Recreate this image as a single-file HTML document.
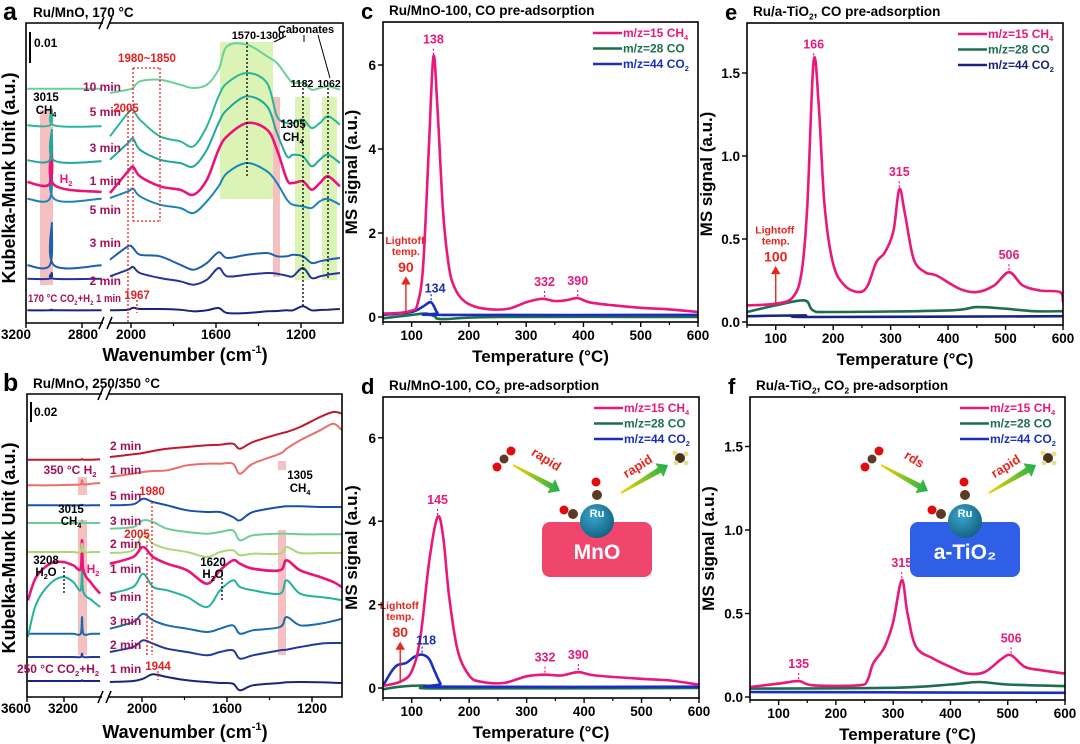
<!DOCTYPE html>
<html><head><meta charset="utf-8">
<style>
html,body{margin:0;padding:0;background:#fff;}
svg{display:block;font-family:"Liberation Sans",Arial,sans-serif;}
text{font-weight:bold;}
</style></head>
<body>
<svg id="fig" width="1080" height="744" viewBox="0 0 1080 744" xmlns="http://www.w3.org/2000/svg">
<defs>
<linearGradient id="arrowGrad" x1="0" y1="0" x2="1" y2="0">
<stop offset="0" stop-color="#f6d400"/><stop offset="1" stop-color="#19b04a"/>
</linearGradient>
<radialGradient id="ruGrad" cx="0.4" cy="0.35" r="0.7">
<stop offset="0" stop-color="#3aa6cf"/><stop offset="1" stop-color="#11607f"/>
</radialGradient>
</defs>
</svg>
<script>
// ---------- Panel a data (wavenumber grid, absorbance in arbitrary units) ----------
const aRightWaves = [2099,2014,1990,1958,1864,1769,1706,1643,1588,1548,1454,1360,1313,1266,1238,1191,1150,1111,1073,1017];
const aLeftWaves = [3190,3030,3015,3000,2660];
const aLabels = ["","2 min","3 min","5 min","1 min","3 min","5 min","10 min"];
const aRight1 = [38,40,46,42,42,40,35,38,45,30,30,35,36,38,38,50,38,39,40,42];
const aRight2 = [140,160,168,150,135,125,115,130,165,140,145,150,148,142,140,165,135,140,145,150];
const aRight3 = [190,230,225,205,200,175,160,180,212,195,205,210,200,200,205,200,180,185,190,195];
const aRight4 = [375,395,403,380,355,345,330,365,410,450,480,455,420,370,355,350,345,365,372,355];
const aRight5 = [390,455,468,440,410,400,385,430,520,560,600,580,520,430,420,425,400,420,440,410];
const aRight6 = [490,540,553,520,490,480,470,520,600,640,680,650,570,500,505,500,470,490,505,480];
const aRight7 = [560,630,638,610,560,545,530,590,680,720,750,720,620,600,600,610,585,600,620,595];
const aRight8 = [690,700,705,725,730,715,705,715,760,830,835,800,780,740,720,720,700,705,710,700];
const aLeft1 = [38,38,40,38,38];
const aLeft2 = [133,133,150,133,133];
const aLeft3 = [173,173,300,173,173];
const aLeft4 = [373,373,500,373,373];
const aLeft5 = [423,418,530,415,393];
const aLeft6 = [488,488,580,488,485];
const aLeft7 = [593,593,640,593,590];
const aLeft8 = [703,703,703,703,703];

// ---------- Panel b data ----------
const bRightWaves = [2151,2042,1995,1948,1882,1788,1694,1633,1572,1539,1478,1351,1320,1256,1162,1100,1059];
const bLeftWaves = [3590,3500,3350,3210,3100,3020,3005,2990,2900,2810];
const bLabels = ["1 min","2 min","3 min","5 min","1 min","2 min","3 min","5 min","1 min","2 min"];
const bRight1 = [45,48,55,68,60,50,45,42,40,20,35,42,44,45,44,43,42];
const bRight2 = [135,150,170,160,145,135,125,135,140,115,125,140,142,150,160,162,162];
const bRight3 = [205,225,250,230,215,205,195,205,215,190,200,210,240,215,220,228,235];
const bRight4 = [310,330,370,330,320,300,270,320,350,330,320,310,350,310,300,295,290];
const bRight5 = [400,420,450,420,400,380,340,380,410,400,385,380,410,380,360,345,330];
const bRight6 = [432,440,490,460,445,435,420,435,440,425,430,430,450,432,432,432,432];
const bRight7 = [505,510,530,525,505,495,490,495,500,470,485,490,490,488,488,488,488];
const bRight8 = [575,578,595,585,575,560,555,555,540,530,555,570,572,572,570,570,570];
const bRight9 = [660,670,675,678,680,695,700,700,700,670,700,730,745,770,800,820,800];
const bRight10 = [720,728,732,738,745,750,755,757,760,745,765,790,795,810,840,855,850];
const bLeft1 = [48,48,48,48,48,48,50,48,48,48];
const bLeft2 = [120,120,120,120,120,120,130,120,120,120];
const bLeft3 = [190,190,190,190,190,190,240,190,190,190];
const bLeft4 = [180,280,340,360,345,320,390,315,290,270];
const bLeft5 = [290,360,400,405,395,385,470,380,340,310];
const bLeft6 = [435,435,435,435,435,435,460,435,435,435];
const bLeft7 = [522,522,522,522,522,522,530,522,522,522];
const bLeft8 = [575,575,575,575,575,575,577,575,575,575];
const bLeft9 = [635,635,635,636,637,638,650,638,640,642];
const bLeft10 = [712,712,712,712,712,712,714,712,712,713];

// ---------- Panel c data (TPSR, MS signal) ----------
const cTempCH4 = [50,80,100,110,120,130,138,145,155,165,175,190,210,240,270,300,320,332,350,370,390,410,450,500,550,600];
const cValCH4 = [0.08,0.1,0.15,0.3,1.2,4.0,6.2,5.0,2.5,1.2,0.7,0.4,0.25,0.18,0.2,0.35,0.42,0.43,0.38,0.4,0.45,0.35,0.28,0.22,0.18,0.12];
const cTempCO = [50,100,125,140,155,250,600];
const cValCO = [-0.03,0.05,0.08,0.02,-0.05,0.0,0.0];
const cTempCO2 = [50,100,120,134,145,155,600];
const cValCO2 = [0.05,0.12,0.25,0.35,0.1,0.05,0.05];
const cPeaks = [138,332,390];
const cPeakVals = [6.2,0.43,0.45];
const cCO2Peak = [134];
const cCO2PeakVal = [0.35];
const cLightoff = [90];

// ---------- Panel d data ----------
const dTempCH4 = [50,80,100,115,130,145,155,165,180,200,220,260,300,332,360,390,420,500,550,600];
const dValCH4 = [0.05,0.15,0.4,1.2,3.0,4.1,3.6,2.2,0.9,0.3,0.15,0.12,0.28,0.32,0.3,0.38,0.3,0.22,0.18,0.08];
const dTempCO = [50,80,120,140,150,600];
const dValCO = [-0.03,0.03,0.06,0.03,-0.01,0.0];
const dTempCO2 = [50,65,75,90,105,118,130,140,150,155,600];
const dValCO2 = [0.05,0.4,0.55,0.6,0.75,0.8,0.7,0.4,0.1,0.03,0.03];
const dPeaks = [145,332,390];
const dPeakVals = [4.1,0.32,0.38];
const dCO2Peak = [118];
const dCO2PeakVal = [0.8];
const dLightoff = [80];

// ---------- Panel e data ----------
const eTempCH4 = [50,100,130,145,155,166,175,185,200,220,245,260,275,290,305,315,325,340,360,380,420,450,480,506,530,560,595,600];
const eValCH4 = [0.1,0.11,0.15,0.3,0.7,1.57,1.3,0.7,0.35,0.22,0.18,0.22,0.36,0.42,0.55,0.8,0.65,0.38,0.3,0.28,0.2,0.18,0.22,0.3,0.22,0.19,0.18,0.12];
const eTempCO = [50,100,150,165,200,400,450,500,550,600];
const eValCO = [0.06,0.1,0.13,0.07,0.06,0.07,0.09,0.08,0.065,0.065];
const eTempCO2 = [50,150,160,600];
const eValCO2 = [0.035,0.04,0.03,0.035];
const ePeaks = [166,315,506];
const ePeakVals = [1.57,0.8,0.3];
const eLightoff = [100];

// ---------- Panel f data ----------
const fTempCH4 = [50,100,135,160,240,255,265,285,300,315,325,340,370,400,430,460,490,506,530,560,600];
const fValCH4 = [0.06,0.08,0.095,0.07,0.07,0.1,0.2,0.3,0.45,0.7,0.5,0.3,0.23,0.18,0.14,0.15,0.23,0.25,0.18,0.16,0.14];
const fTempCO = [50,300,400,450,500,600];
const fValCO = [0.05,0.055,0.075,0.09,0.075,0.065];
const fTempCO2 = [50,600];
const fValCO2 = [0.03,0.025];
const fPeaks = [135,315,506];
const fPeakVals = [0.095,0.7,0.25];

const xTicksT = [100,200,300,400,500,600];
const xMinorT = [50,150,250,350,450,550];
const yTicksMnO = [0,2,4,6];
const yTicksTi = [0.0,0.5,1.0,1.5];

// ---------- helpers ----------
const NS='http://www.w3.org/2000/svg';
const svg=document.getElementById('fig');
function mk(tag, attrs, parent){
  const e=document.createElementNS(NS,tag);
  for(const k in attrs) e.setAttribute(k, attrs[k]);
  (parent||svg).appendChild(e);
  return e;
}
function txt(parent, x, y, parts, size, fill, anchor, extra){
  const t=mk('text',{x:x,y:y,'font-size':size,fill:fill||'#000','text-anchor':anchor||'start'},parent);
  if(extra) for(const k in extra) t.setAttribute(k, extra[k]);
  if(typeof parts==='string') parts=[[parts,0]];
  let shift=0;
  parts.forEach(p=>{
    const s=mk('tspan',{},t);
    let target=0;
    if(p[1]===1){s.setAttribute('font-size',size*0.62);target=size*0.25;}
    else if(p[1]===2){s.setAttribute('font-size',size*0.62);target=-size*0.45;}
    const dy=target-shift;
    if(dy!==0) s.setAttribute('dy',dy);
    shift=target;
    s.textContent=p[0];
  });
  return t;
}
function smoothPath(pts){
  let d='M'+pts[0][0].toFixed(1)+','+pts[0][1].toFixed(1);
  for(let i=0;i<pts.length-1;i++){
    const p0=pts[i-1]||pts[i], p1=pts[i], p2=pts[i+1], p3=pts[i+2]||p2;
    const c1x=p1[0]+(p2[0]-p0[0])/6, c1y=p1[1]+(p2[1]-p0[1])/6;
    const c2x=p2[0]-(p3[0]-p1[0])/6, c2y=p2[1]-(p3[1]-p1[1])/6;
    d+=' C'+c1x.toFixed(1)+','+c1y.toFixed(1)+' '+c2x.toFixed(1)+','+c2y.toFixed(1)+' '+p2[0].toFixed(1)+','+p2[1].toFixed(1);
  }
  return d;
}

// ---------- spectra panels ----------
function drawSpectra(cfg){
  const g=mk('g',{});
  
  
  const xl=w=>cfg.left0+(cfg.leftW0-w)*cfg.leftK;
  const xr=w=>cfg.right0+(cfg.rightW0-w)*cfg.rightK;
  const yv=v=>cfg.bottom-v/3;
  cfg.boxes.forEach(b=>{
    const r=mk('rect',{x:b[0],y:b[1],width:b[2],height:b[3],fill:b[4]},g);
    
    
  });
  cfg.traces.forEach((tr,i)=>{
    const ptsR=cfg.rightWaves.map((w,j)=>[xr(w),yv(tr.right[j])]);
    const ptsL=cfg.leftWaves.map((w,j)=>[xl(w),yv(tr.left[j])]);
    const p1=mk('path',{d:smoothPath(ptsL),fill:'none',stroke:tr.color,'stroke-width':tr.w||2},g);
    
    
    const p2=mk('path',{d:smoothPath(ptsR),fill:'none',stroke:tr.color,'stroke-width':tr.w||2},g);
    
    
  });
  cfg.guides.forEach(l=>{
    const ln=mk('line',{x1:l[0],y1:l[1],x2:l[2],y2:l[3],stroke:l[4],'stroke-width':1.3,'stroke-dasharray':'2,2'},g);
    
    
  });
  (cfg.pointers||[]).forEach(l=>{
    const ln=mk('line',{x1:l[0],y1:l[1],x2:l[2],y2:l[3],stroke:'#000','stroke-width':1},g);
    
    
  });
  const f=mk('path',{d:`M${cfg.brk[0]},${cfg.top} H${cfg.x0} V${cfg.bottom} H${cfg.brk[0]} M${cfg.brk[1]},${cfg.top} H${cfg.x1} V${cfg.bottom} H${cfg.brk[1]}`,fill:'none',stroke:'#000','stroke-width':1.6},g);
  
  
  [cfg.top,cfg.bottom].forEach(yy=>{
    const s=mk('path',{d:`M${cfg.brk[0]-4},${yy+6} L${cfg.brk[0]+1},${yy-6} M${cfg.brk[1]-2},${yy+6} L${cfg.brk[1]+3},${yy-6}`,stroke:'#000','stroke-width':1.6,fill:'none'},g);
    
    
  });
  cfg.xticks.forEach(t=>{
    const x=t[1]?xl(t[0]):xr(t[0]);
    if(x>=cfg.x0&&x<=cfg.x1){
      const tk=mk('line',{x1:x,y1:cfg.bottom,x2:x,y2:cfg.bottom+5,stroke:'#000','stroke-width':1.4},g);
      
      
    }
    const lx=t[2]!==undefined?t[2]:x;
    const lb=txt(g,lx,cfg.bottom+16,String(t[0]),13.5,'#000','middle');
    
    
  });
  cfg.minor.forEach(m=>{
    const x=xr(m);
    const tk=mk('line',{x1:x,y1:cfg.bottom,x2:x,y2:cfg.bottom+3,stroke:'#000','stroke-width':1.2},g);
    
    
  });
  const sb=mk('line',{x1:cfg.x0+4,y1:cfg.scaleBar[0],x2:cfg.x0+4,y2:cfg.scaleBar[1],stroke:'#000','stroke-width':2},g);
  
  
  cfg.traces.forEach((tr,i)=>{
    if(!tr.label) return;
    const lb=txt(g,tr.lx,tr.ly,tr.label,12,'#a3125a',tr.anchor||'end');
    
    
  });
  cfg.notes.forEach(n=>{
    const lb=txt(g,n[0],n[1],n[2],n[3],n[4],n[5]||'middle',n[6]);
    
    
  });
  const yt=txt(g,0,0,'Kubelka-Munk Unit (a.u.)',18,'#000','middle',{transform:`translate(${cfg.ytitle[0]},${cfg.ytitle[1]}) rotate(-90)`});
  
  
  const xt=txt(g,185,cfg.xtitleY,[['Wavenumber (cm',0],['-1',2],[')',0]],18,'#000','middle');
  
  
  const pl=txt(g,3,cfg.top-3,cfg.letter,25,'#000','start');
  
  
  const pt=txt(g,33,cfg.top-6,cfg.title,13.5,'#000','start');
  
  
}

const PINKBOX='rgba(240,150,150,0.6)', GREENBOX='rgba(190,235,120,0.55)';
drawSpectra({
  name:'panel-a', letter:'a', title:'Ru/MnO, 170 °C', top:23, bottom:323, x0:26, x1:343, brk:[103,109],
  left0:26, leftW0:3200, leftK:0.14, right0:131, rightW0:2000, rightK:0.2125,
  rightWaves:aRightWaves, leftWaves:aLeftWaves,
  traces:[
    {left:aLeft1,right:aRight1,color:'#1b237a',label:aLabels[0],lx:121,ly:302},
    {left:aLeft2,right:aRight2,color:'#22349c',label:aLabels[1],lx:121,ly:285},
    {left:aLeft3,right:aRight3,color:'#1b5fae',label:aLabels[2],lx:121,ly:247},
    {left:aLeft4,right:aRight4,color:'#1a84b8',label:aLabels[3],lx:121,ly:214},
    {left:aLeft5,right:aRight5,color:'#e8147a',label:aLabels[4],lx:121,ly:185,w:2.6},
    {left:aLeft6,right:aRight6,color:'#1fa89c',label:aLabels[5],lx:121,ly:152},
    {left:aLeft7,right:aRight7,color:'#2ab69a',label:aLabels[6],lx:121,ly:116},
    {left:aLeft8,right:aRight8,color:'#6bcf98',label:aLabels[7],lx:121,ly:91}
  ],
  boxes:[[220,42,53,157,GREENBOX],[295,97,15,183,GREENBOX],[322,97,15,183,GREENBOX],[40,110,13,175,PINKBOX],[273,97,7,180,PINKBOX]],
  guides:[[128,108,128,323,'#e52020'],[137,300,137,313,'#e52020'],[247,42,247,178,'#000'],[303,88,303,308,'#000'],[328,88,328,280,'#000'],
          [133,68,160,68,'#e52020'],[133,221,160,221,'#e52020'],[133,68,133,221,'#e52020'],[160,68,160,221,'#e52020']],
  pointers:[[286,36,274,42],[304,35,304,42],[318,35,330,78]],
  xticks:[[3200,1,16],[2800,1,83],[2000,0],[1600,0],[1200,0]],
  minor:[1800,1400],
  scaleBar:[32,63],
  notes:[[34,47,'0.01',12,'#000','start'],[258,39,'1570-1300',11,'#000'],[306,33,'Cabonates',11,'#000'],
         [147,62,'1980~1850',11.5,'#e52020'],[302,87,'1182',10.5,'#000'],[329,87,'1062',10.5,'#000'],
         [46,101,'3015',11.5,'#000'],[46,114,[['CH',0],['4',1]],11.5,'#000'],[126,112,'2005',11.5,'#e52020'],
         [293,128,'1305',11.5,'#000'],[293,141,[['CH',0],['4',1]],11.5,'#000'],[66,183,[['H',0],['2',1]],12,'#e8147a'],
         [137,299,'1967',11.5,'#e52020'],
         [28,302,[['170 °C CO',0],['2',1],['+H',0],['2',1],[' 1 min',0]],11,'#a3125a','start',{textLength:93,lengthAdjust:'spacingAndGlyphs'}]],
  ytitle:[15,178], xtitleY:361
});

drawSpectra({
  name:'panel-b', letter:'b', title:'Ru/MnO, 250/350 °C', top:394, bottom:697, x0:27, x1:342, brk:[102,108],
  left0:27, leftW0:3600, leftK:0.0925, right0:142, rightW0:2000, rightK:0.2125,
  rightWaves:bRightWaves, leftWaves:bLeftWaves,
  traces:[
    {left:bLeft1,right:bRight1,color:'#1b237a',label:bLabels[0],lx:110,ly:673,anchor:'start'},
    {left:bLeft2,right:bRight2,color:'#22399c',label:bLabels[1],lx:110,ly:649,anchor:'start'},
    {left:bLeft3,right:bRight3,color:'#1b6aae',label:bLabels[2],lx:110,ly:625,anchor:'start'},
    {left:bLeft4,right:bRight4,color:'#22b39a',label:bLabels[3],lx:110,ly:601,anchor:'start'},
    {left:bLeft5,right:bRight5,color:'#e8147a',label:bLabels[4],lx:110,ly:573,anchor:'start',w:2.6},
    {left:bLeft6,right:bRight6,color:'#a8d87a',label:bLabels[5],lx:110,ly:548,anchor:'start'},
    {left:bLeft7,right:bRight7,color:'#6ccd98',label:bLabels[6],lx:110,ly:525,anchor:'start'},
    {left:bLeft8,right:bRight8,color:'#1a50ad',label:bLabels[7],lx:110,ly:500,anchor:'start'},
    {left:bLeft9,right:bRight9,color:'#ec6e6a',label:bLabels[8],lx:110,ly:474,anchor:'start'},
    {left:bLeft10,right:bRight10,color:'#c0182a',label:bLabels[9],lx:110,ly:450,anchor:'start'}
  ],
  boxes:[[78,477,9,18,PINKBOX],[78,520,9,135,PINKBOX],[278,461,8,9,PINKBOX],[278,530,8,125,PINKBOX]],
  guides:[[152,502,152,655,'#e52020'],[147,537,147,655,'#e52020'],[64,567,64,593,'#000'],[222,570,222,600,'#000'],[158,671,158,680,'#e52020']],
  xticks:[[3600,1,16],[3200,1,63],[2000,0],[1600,0],[1200,0]],
  minor:[1800,1400],
  scaleBar:[402,422],
  notes:[[34,416,'0.02',12,'#000','start'],[70,474,[['350 °C  H',0],['2',1]],12,'#a3125a'],[58,673,[['250 °C  CO',0],['2',1],['+H',0],['2',1]],12,'#a3125a'],
         [71,513,'3015',11.5,'#000'],[71,525,[['CH',0],['4',1]],11.5,'#000'],[46,564,'3208',11.5,'#000'],[46,576,[['H',0],['2',1],['O',0]],11.5,'#000'],
         [93,573,[['H',0],['2',1]],12,'#e8147a'],[152,495,'1980',11.5,'#e52020'],[137,538,'2005',11.5,'#e52020'],
         [213,566,'1620',11.5,'#000'],[213,578,[['H',0],['2',1],['O',0]],11.5,'#000'],[300,479,'1305',11.5,'#000'],[300,492,[['CH',0],['4',1]],11.5,'#000'],
         [158,670,'1944',11.5,'#e52020']],
  ytitle:[15,548], xtitleY:738
});

// ---------- MS panels ----------
function drawMS(cfg){
  const g=mk('g',{});
  
  
  const X=t=>cfg.x0+(t-50)*(cfg.x1-cfg.x0)/550;
  const Y=v=>cfg.y0-v*cfg.k;
  const clip=mk('clipPath',{id:'clip-'+cfg.name},g);
  mk('rect',{x:cfg.x0,y:cfg.top,width:cfg.x1-cfg.x0,height:cfg.bottom-cfg.top},clip);
  const series=[[cfg.tCO,cfg.vCO,'#1e6e4e','co-line'],[cfg.tCO2,cfg.vCO2,cfg.co2Color,'co2-line'],[cfg.tCH4,cfg.vCH4,'#e8197a','ch4-line']];
  series.forEach(s=>{
    const pts=s[0].map((t,i)=>[X(t),Y(s[1][i])]);
    const p=mk('path',{d:smoothPath(pts),fill:'none',stroke:s[2],'stroke-width':2.6,'clip-path':`url(#clip-${cfg.name})`},g);
    
    
  });
  cfg.peaks.forEach((t,i)=>{
    const v=cfg.peakVals[i];
    const ln=mk('line',{x1:X(t),y1:Y(v)-2,x2:X(t),y2:Y(v)-10,stroke:'#e8197a','stroke-width':1.2,'stroke-dasharray':'2,2'},g);
    
    
    const lb=txt(g,X(t),Y(v)-13,String(t),12.5,'#e8197a','middle');
    
    
  });
  (cfg.co2Peaks||[]).forEach((t,i)=>{
    const v=cfg.co2PeakVals[i];
    const ln=mk('line',{x1:X(t),y1:Y(v)-2,x2:X(t),y2:Y(v)-8,stroke:'#1a2fb0','stroke-width':1.2,'stroke-dasharray':'2,2'},g);
    
    
    const lb=txt(g,X(t)+4,Y(v)-10,String(t),12.5,'#1a2fb0','middle');
    
    
  });
  (cfg.lightoff||[]).forEach(t=>{
    const x=X(t), yb=Y(cfg.loBase), ytop=yb-cfg.loLen;
    const a=mk('path',{d:`M${x},${yb} V${ytop+5} M${x-3.5},${ytop+6} L${x},${ytop} L${x+3.5},${ytop+6} Z`,stroke:'#e8261f','stroke-width':1.4,fill:'#e8261f'},g);
    
    
    const l1=txt(g,x-1,ytop-34,'Lightoff',10.5,'#e8261f','middle');
    
    
    const l2=txt(g,x,ytop-23,'temp.',10.5,'#e8261f','middle');
    
    
    const l3=txt(g,x,ytop-6,String(t),14,'#e8261f','middle');
    
    
  });
  const fr=mk('rect',{x:cfg.x0,y:cfg.top,width:cfg.x1-cfg.x0,height:cfg.bottom-cfg.top,fill:'none',stroke:'#000','stroke-width':1.6},g);
  
  
  xTicksT.forEach(t=>{
    const tk=mk('line',{x1:X(t),y1:cfg.bottom,x2:X(t),y2:cfg.bottom+5,stroke:'#000','stroke-width':1.4},g);
    
    
    const lb=txt(g,X(t),cfg.bottom+18,String(t),13.5,'#000','middle');
    
    
  });
  xMinorT.forEach(t=>{
    const tk=mk('line',{x1:X(t),y1:cfg.bottom,x2:X(t),y2:cfg.bottom+3,stroke:'#000','stroke-width':1.2},g);
    
    
  });
  cfg.yticks.forEach(v=>{
    const tk=mk('line',{x1:cfg.x0-5,y1:Y(v),x2:cfg.x0,y2:Y(v),stroke:'#000','stroke-width':1.4},g);
    
    
    const lb=txt(g,cfg.x0-7,Y(v)+5,cfg.yfmt(v),13.5,'#000','end');
    
    
  });
  const xt=txt(g,(cfg.x0+cfg.x1)/2,cfg.bottom+40,'Temperature (°C)',17,'#000','middle');
  
  
  const yt=txt(g,0,0,'MS signal (a.u.)',17,'#000','middle',{transform:`translate(${cfg.ytx},${(cfg.top+cfg.bottom)/2}) rotate(-90)`});
  
  
  const pl=txt(g,cfg.x0-22,cfg.top-3,cfg.letter,22,'#000','start');
  
  
  const pt=txt(g,cfg.x0+6,cfg.top-7,cfg.title,13.5,'#000','start');
  
  
  const legend=[['#e8197a',[['m/z=15  CH',0],['4',1]]],['#1e6e4e',[['m/z=28  CO',0]]],[cfg.co2Color,[['m/z=44  CO',0],['2',1]]]];
  legend.forEach((L,i)=>{
    const y=cfg.top+11+i*15.5;
    const ln=mk('line',{x1:cfg.x1-105,y1:y,x2:cfg.x1-76,y2:y,stroke:L[0],'stroke-width':2.6},g);
    
    
    const lb=txt(g,cfg.x1-75,y+4,L[1],12,L[0],'start');
    
    
  });
  return g;
}

drawMS({name:'panel-c',letter:'c',title:'Ru/MnO-100, CO pre-adsorption',x0:383,x1:698,top:22,bottom:322,y0:317,k:42,ytx:357,
  tCH4:cTempCH4,vCH4:cValCH4,tCO:cTempCO,vCO:cValCO,tCO2:cTempCO2,vCO2:cValCO2,co2Color:'#1a2fc0',
  peaks:cPeaks,peakVals:cPeakVals,co2Peaks:cCO2Peak,co2PeakVals:cCO2PeakVal,lightoff:cLightoff,loBase:0.1,loLen:35,
  yticks:yTicksMnO,yfmt:v=>String(v)});
drawMS({name:'panel-d',letter:'d',title:[['Ru/MnO-100, CO',0],['2',1],[' pre-adsorption',0]],x0:383,x1:699,top:397,bottom:698,y0:688,k:41.7,ytx:357,
  tCH4:dTempCH4,vCH4:dValCH4,tCO:dTempCO,vCO:dValCO,tCO2:dTempCO2,vCO2:dValCO2,co2Color:'#1a2fc0',
  peaks:dPeaks,peakVals:dPeakVals,co2Peaks:dCO2Peak,co2PeakVals:dCO2PeakVal,lightoff:dLightoff,loBase:0.12,loLen:40,
  yticks:yTicksMnO,yfmt:v=>String(v)});
drawMS({name:'panel-e',letter:'e',title:[['Ru/a-TiO',0],['2',1],[', CO pre-adsorption',0]],x0:747,x1:1063,top:23,bottom:325,y0:322,k:166,ytx:712,
  tCH4:eTempCH4,vCH4:eValCH4,tCO:eTempCO,vCO:eValCO,tCO2:eTempCO2,vCO2:eValCO2,co2Color:'#1a237e',
  peaks:ePeaks,peakVals:ePeakVals,lightoff:eLightoff,loBase:0.1,loLen:38,
  yticks:yTicksTi,yfmt:v=>v.toFixed(1)});
drawMS({name:'panel-f',letter:'f',title:[['Ru/a-TiO',0],['2',1],[', CO',0],['2',1],[' pre-adsorption',0]],x0:750,x1:1065,top:397,bottom:700,y0:697,k:167,ytx:714,
  tCH4:fTempCH4,vCH4:fValCH4,tCO:fTempCO,vCO:fValCO,tCO2:fTempCO2,vCO2:fValCO2,co2Color:'#1a2fc0',
  peaks:fPeaks,peakVals:fPeakVals,
  yticks:yTicksTi,yfmt:v=>v.toFixed(1)});

// ---------- schematic illustrations ----------
function atom(g,x,y,r,c){
  const a=mk('circle',{cx:x,cy:y,r:r,fill:c},g);
  
  
}
function gradArrow(g,x1,y1,x2,y2){
  const dx=x2-x1, dy=y2-y1, L=Math.hypot(dx,dy), ang=Math.atan2(dy,dx)*180/Math.PI;
  const p=mk('path',{d:`M0,-1 L${L-10},-3 L${L-10},-8 L${L},0 L${L-10},8 L${L-10},3 L0,1 Z`,fill:'url(#arrowGrad)',transform:`translate(${x1},${y1}) rotate(${ang})`},g);
  
  
}
function scheme(name,ox,boxColor,boxLabel,word1){
  const g=mk('g',{});
  
  
  const b=mk('rect',{x:ox+542,y:522,width:110,height:55,rx:8,fill:boxColor},g);
  
  
  const ru=mk('circle',{cx:ox+597,cy:521,r:17,fill:'url(#ruGrad)'},g);
  
  
  const rt=txt(g,ox+597,517,'Ru',11,'#fff','middle');
  
  
  const bt=txt(g,ox+597,559,boxLabel,21,'#fff','middle');
  
  
  atom(g,ox+497,467,4.5,'#e00d0d');atom(g,ox+504,459,4.5,'#5a3b26');atom(g,ox+511,451,4.5,'#e00d0d');
  atom(g,ox+596,482,4.5,'#e00d0d');atom(g,ox+597,495,5,'#5a3b26');
  atom(g,ox+564,510,4.5,'#e00d0d');atom(g,ox+573,514,5,'#5a3b26');
  atom(g,ox+680,458,5,'#4a3220');atom(g,ox+675,453,2.5,'#e6e08a');atom(g,ox+686,454,2.5,'#e6e08a');atom(g,ox+676,463,2.5,'#e6e08a');atom(g,ox+686,463,2.5,'#e6e08a');
  gradArrow(g,ox+513,465,ox+560,491);
  gradArrow(g,ox+621,493,ox+668,465);
  const w1=txt(g,0,0,word1,13,'#e8261f','middle',{transform:`translate(${ox+544},${463}) rotate(32)`});
  
  
  const w2=txt(g,0,0,'rapid',13,'#e8261f','middle',{transform:`translate(${ox+640},${470}) rotate(-32)`});
  
  
}
scheme('scheme-mno',0,'#f0466e','MnO','rapid');
scheme('scheme-tio2',368,'#2f5fe6','a-TiO\u2082','rds');
</script>
</body></html>
